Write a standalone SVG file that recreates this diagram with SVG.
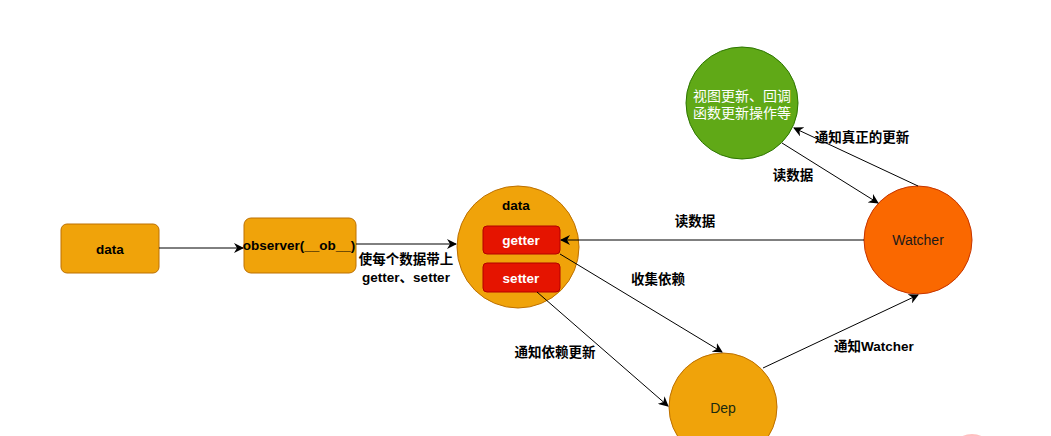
<svg xmlns="http://www.w3.org/2000/svg" width="1051" height="436" viewBox="0 0 1051 436">
<defs>
<style>
.t{font-family:"Liberation Sans","Noto Sans CJK SC",sans-serif;font-size:13.5px;text-anchor:middle;dominant-baseline:central}
.b{font-weight:bold;fill:#000}
.n{font-size:14px}
.org{fill:#f0a30a;stroke:#bd7000;stroke-width:1}
.red{fill:#e51400;stroke:#b20000;stroke-width:1}
.e{fill:none;stroke:#000;stroke-width:1}
</style>
<marker id="ah" viewBox="0 0 10 10" refX="9" refY="5" markerWidth="10" markerHeight="10" markerUnits="userSpaceOnUse" orient="auto">
<path d="M0,0 L10,5 L0,10 L3,5 Z" fill="#000"/>
</marker>
</defs>
<rect width="1051" height="436" fill="#fff"/>
<g id="node-data">
<rect class="org" x="61" y="224" width="98" height="49" rx="6"/>
<text class="t b" x="110" y="249">data</text>
</g>
<g id="node-observer">
<rect class="org" x="244" y="218" width="112" height="55" rx="7"/>
<text class="t b" x="299" y="245" font-size="14">observer(__ob__)</text>
</g>
<g id="node-datacircle">
<circle class="org" cx="518" cy="247" r="61"/>
<text class="t b" x="516" y="205">data</text>
</g>
<g id="node-getter">
<rect class="red" x="483" y="226" width="77" height="28" rx="4"/>
<text class="t b" x="521" y="240" style="fill:#fff">getter</text>
</g>
<g id="node-setter">
<rect class="red" x="483" y="263" width="77" height="29" rx="4"/>
<text class="t b" x="521" y="278" style="fill:#fff">setter</text>
</g>
<g id="node-view">
<circle cx="742" cy="103" r="56" fill="#60a917" stroke="#2d7600"/>
<text class="t n" x="742" y="96" fill="#fff">视图更新、回调</text>
<text class="t n" x="742" y="113" fill="#fff">函数更新操作等</text>
</g>
<g id="node-watcher">
<circle cx="918" cy="240" r="54" fill="#fa6800" stroke="#c73500"/>
<text class="t n" x="918" y="240" fill="#1a1a1a">Watcher</text>
</g>
<g id="node-dep">
<circle class="org" cx="723" cy="407" r="54"/>
<text class="t n" x="723" y="408" fill="#1a2a10">Dep</text>
</g>
<g id="connectors">
<line class="e" x1="159" y1="248" x2="243" y2="248" marker-end="url(#ah)"/>
<line class="e" x1="356" y1="244" x2="456" y2="244" marker-end="url(#ah)"/>
<line class="e" x1="864" y1="240" x2="561" y2="240" stroke="#333" marker-end="url(#ah)"/>
<line class="e" x1="560" y1="254" x2="722" y2="352" marker-end="url(#ah)"/>
<line class="e" x1="537" y1="292" x2="668" y2="406" marker-end="url(#ah)"/>
<line class="e" x1="763" y1="368" x2="918" y2="295" marker-end="url(#ah)"/>
<line class="e" x1="918" y1="186" x2="794" y2="128" marker-end="url(#ah)"/>
<line class="e" x1="782" y1="143" x2="878" y2="203" marker-end="url(#ah)"/>
<text class="t b" x="406" y="259">使每个数据带上</text>
<text class="t b" x="406" y="277">getter、setter</text>
<text class="t b" x="695" y="221">读数据</text>
<text class="t b" x="658" y="279">收集依赖</text>
<text class="t b" x="555" y="352">通知依赖更新</text>
<text class="t b" x="874" y="346">通知Watcher</text>
<text class="t b" x="862" y="137">通知真正的更新</text>
<text class="t b" x="793" y="175">读数据</text>
</g>
<ellipse cx="972" cy="448" rx="18" ry="14" fill="#ffb0b0" opacity="0.8"/>
</svg>
